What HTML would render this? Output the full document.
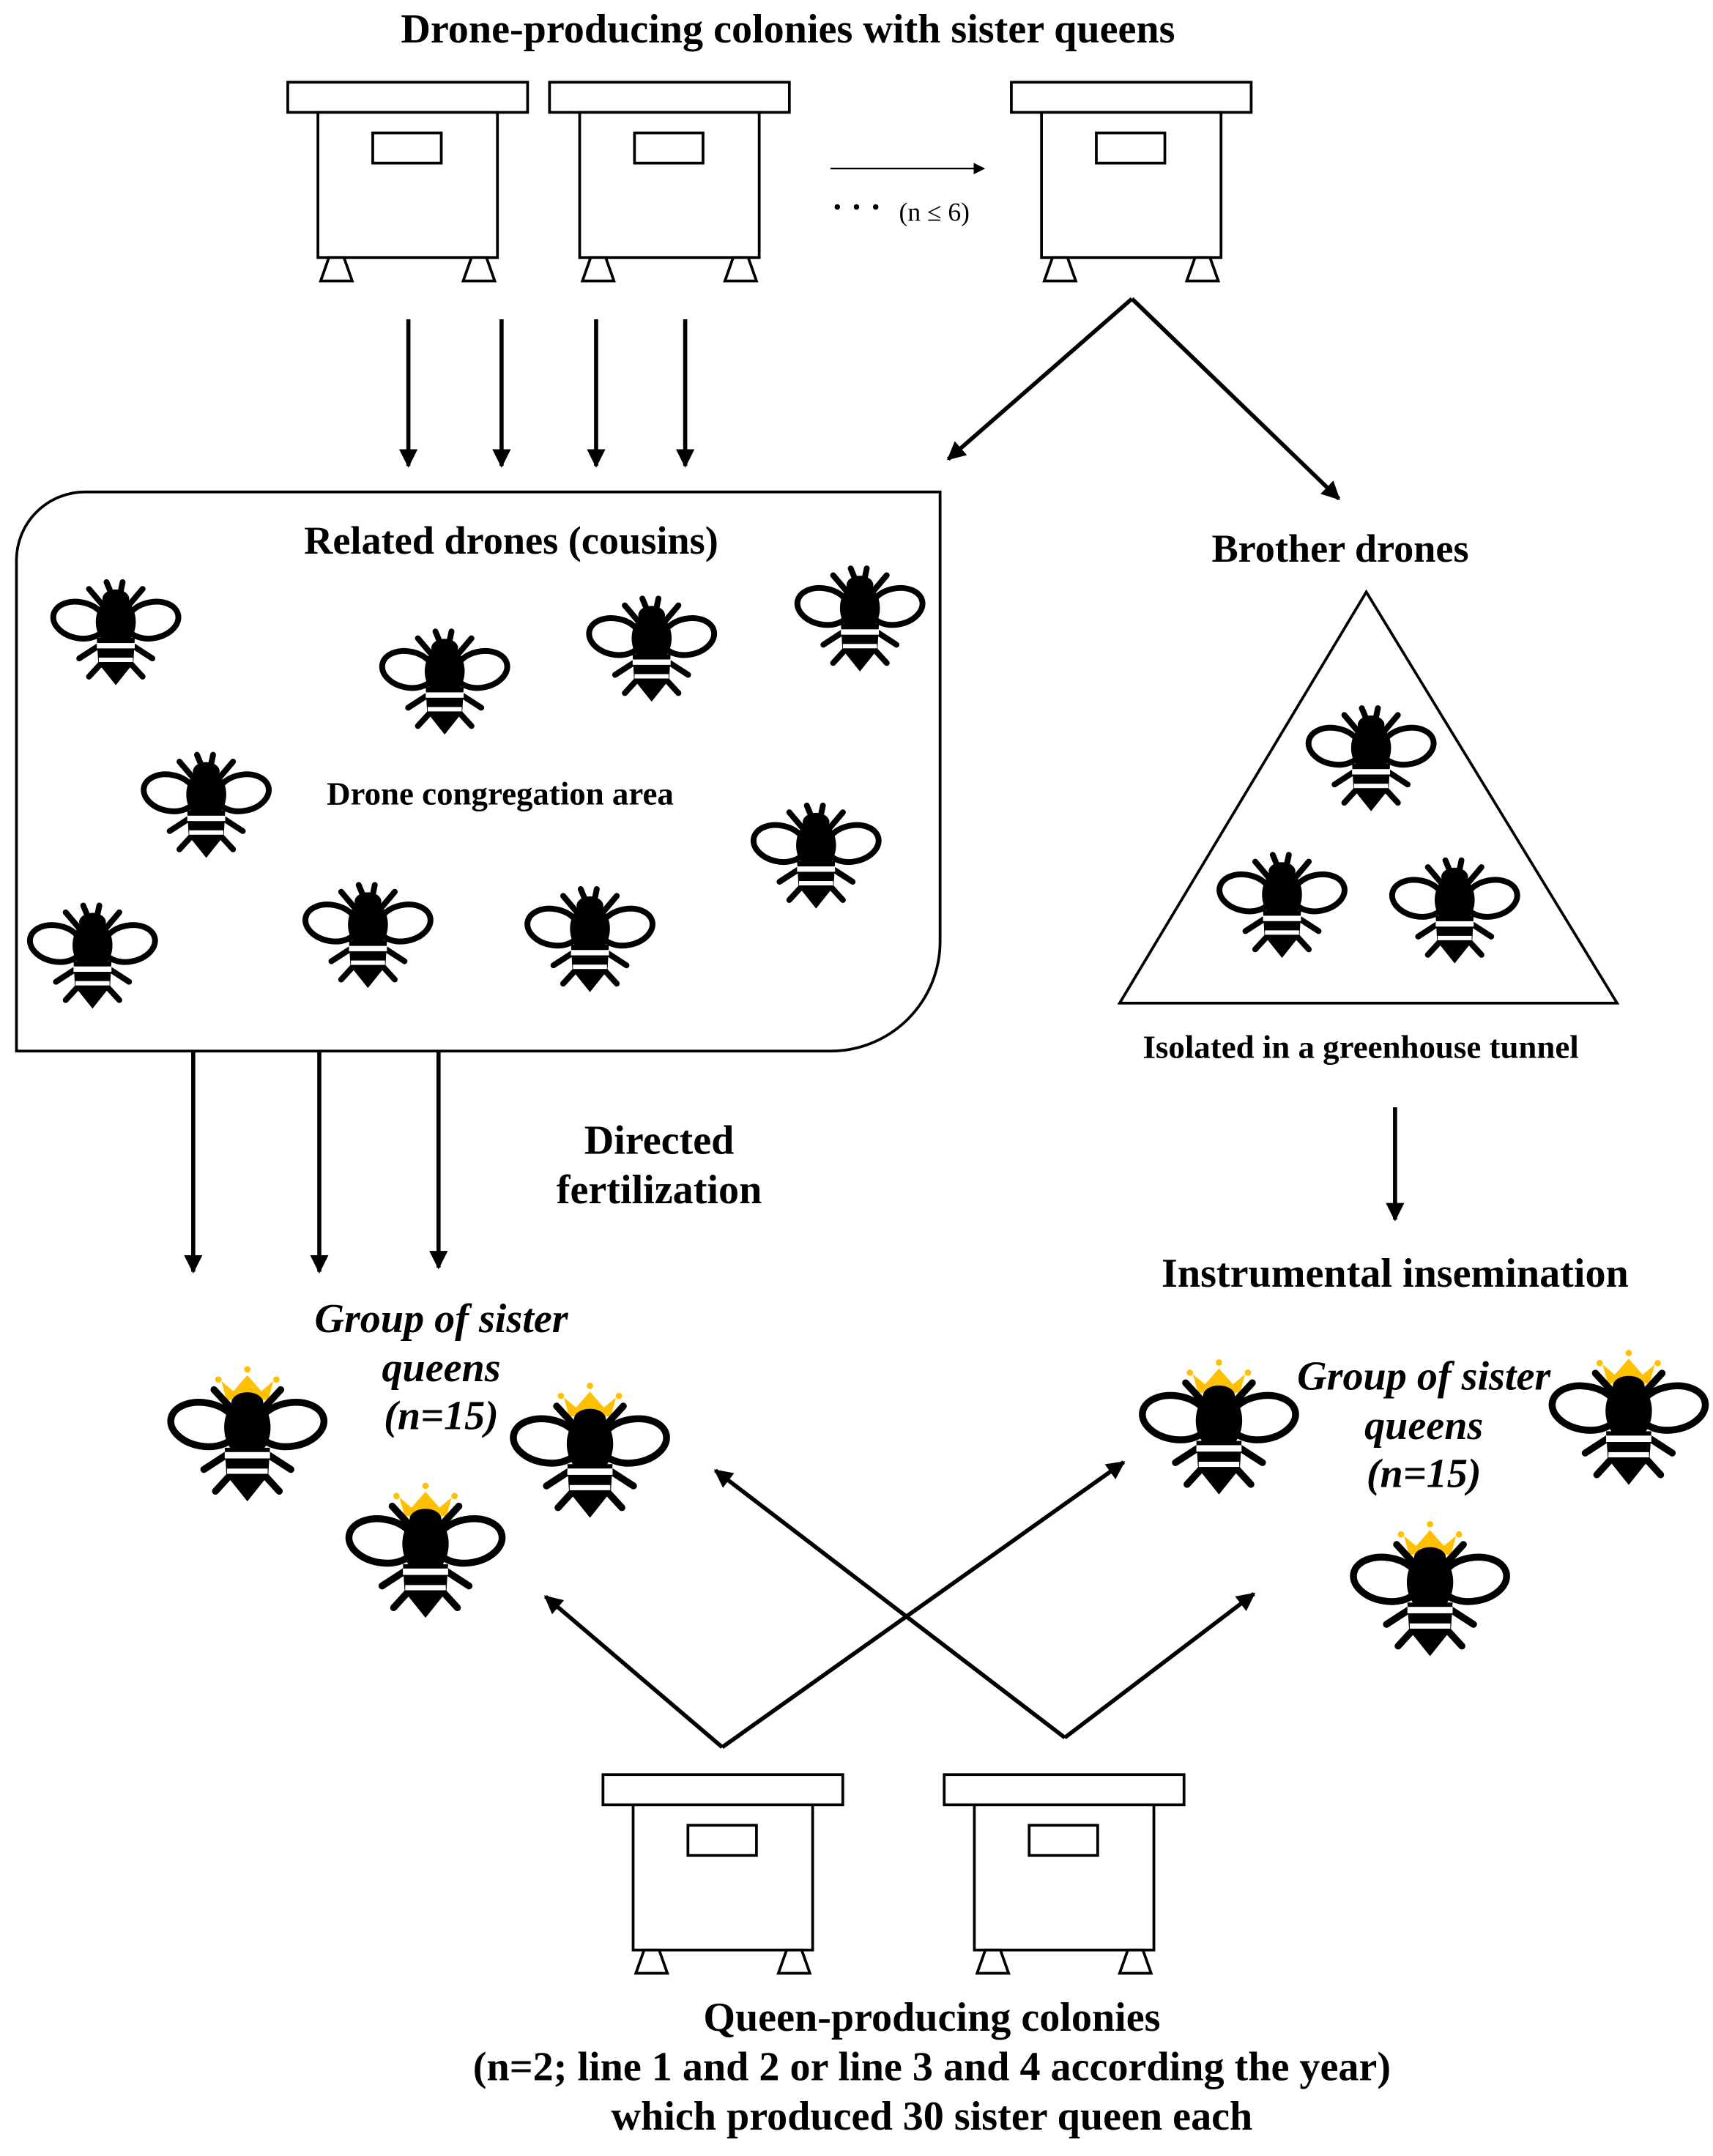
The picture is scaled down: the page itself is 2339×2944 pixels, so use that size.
<!DOCTYPE html>
<html><head><meta charset="utf-8"><style>
html,body{margin:0;padding:0;background:#fff}
svg{display:block}
text{font-family:"Liberation Serif",serif;font-weight:bold;fill:#000}
</style></head><body>
<svg width="2339" height="2944" viewBox="0 0 1250 1573.3" xmlns="http://www.w3.org/2000/svg">
<defs>
<marker id="ah" viewBox="0 0 10 10" refX="9" refY="5" markerWidth="4.5" markerHeight="4.5" orient="auto" markerUnits="strokeWidth"><path d="M0,0 L10,5 L0,10 z" fill="#000"/></marker>
<marker id="ah2" viewBox="0 0 10 10" refX="9" refY="5" markerWidth="7" markerHeight="7" orient="auto" markerUnits="strokeWidth"><path d="M0,0 L10,5 L0,10 z" fill="#000"/></marker>
<g id="hive" fill="#fff" stroke="#000" stroke-width="2">
<rect x="0" y="0" width="175" height="22"/>
<rect x="22" y="22" width="131" height="106"/>
<rect x="62" y="37" width="50" height="22"/>
<path d="M30,128 L41,128 L47,145 L24,145 Z"/>
<path d="M134,128 L145,128 L151,145 L128,145 Z"/>
</g>
<symbol id="bee" viewBox="0 0 600 540">
<g stroke="#000" stroke-width="24" stroke-linecap="round" fill="none">
<ellipse cx="150" cy="228" rx="108" ry="74" transform="rotate(12 150 228)" fill="#fff"/>
<ellipse cx="450" cy="228" rx="108" ry="74" transform="rotate(-12 450 228)" fill="#fff"/>
<line x1="282" y1="120" x2="262" y2="72"/><line x1="318" y1="120" x2="328" y2="72"/>
<line x1="245" y1="165" x2="190" y2="100"/><line x1="355" y1="165" x2="410" y2="100"/>
<line x1="235" y1="330" x2="150" y2="385"/><line x1="365" y1="330" x2="450" y2="385"/>
<line x1="245" y1="400" x2="190" y2="460"/><line x1="355" y1="400" x2="410" y2="460"/>
</g>
<ellipse cx="300" cy="140" rx="55" ry="38" fill="#000"/>
<ellipse cx="300" cy="235" rx="82" ry="105" fill="#000"/>
<path d="M222,300 L378,300 L372,405 L300,495 L228,405 Z" fill="#000"/>
<rect x="222" y="322" width="156" height="22" fill="#fff"/>
<rect x="230" y="382" width="140" height="18" fill="#fff"/>
</symbol>
<symbol id="queen" viewBox="0 0 600 600">
<path d="M228,215 L210,150 L252,185 L300,130 L348,185 L390,150 L372,215 Z" fill="#FFC000"/>
<circle cx="300" cy="110" r="11" fill="#FFC000"/><circle cx="200" cy="145" r="11" fill="#FFC000"/><circle cx="400" cy="145" r="11" fill="#FFC000"/>
<g stroke="#000" stroke-width="24" stroke-linecap="round" fill="none">
<ellipse cx="150" cy="300" rx="115" ry="75" transform="rotate(10 150 300)" fill="#fff"/>
<ellipse cx="450" cy="300" rx="115" ry="75" transform="rotate(-10 450 300)" fill="#fff"/>
<line x1="245" y1="245" x2="185" y2="180"/><line x1="355" y1="245" x2="415" y2="180"/>
<line x1="235" y1="400" x2="150" y2="455"/><line x1="365" y1="400" x2="450" y2="455"/>
<line x1="245" y1="470" x2="190" y2="530"/><line x1="355" y1="470" x2="410" y2="530"/>
</g>
<ellipse cx="300" cy="225" rx="55" ry="36" fill="#000"/>
<ellipse cx="300" cy="310" rx="80" ry="105" fill="#000"/>
<path d="M222,380 L378,380 L372,475 L300,565 L228,475 Z" fill="#000"/>
<rect x="222" y="395" width="156" height="22" fill="#fff"/>
<rect x="230" y="452" width="140" height="18" fill="#fff"/>
</symbol>
</defs>

<text x="575" y="31" font-size="30" text-anchor="middle">Drone-producing colonies with sister queens</text>
<use href="#hive" x="210" y="60"/>
<use href="#hive" x="401" y="60"/>
<use href="#hive" x="738" y="60"/>
<line x1="606" y1="123" x2="718" y2="123" stroke="#000" stroke-width="1.2" marker-end="url(#ah2)"/>
<circle cx="611" cy="151" r="2" fill="#000"/><circle cx="625" cy="151" r="2" fill="#000"/><circle cx="639" cy="151" r="2" fill="#000"/>
<text x="656" y="161" font-size="19" style="font-weight:normal">(n ≤ 6)</text>

<g stroke="#000" stroke-width="3" marker-end="url(#ah)">
<line x1="298" y1="233" x2="298" y2="340"/>
<line x1="366" y1="233" x2="366" y2="340"/>
<line x1="435" y1="233" x2="435" y2="340"/>
<line x1="500" y1="233" x2="500" y2="340"/>
<line x1="826" y1="218" x2="977" y2="364"/>
<line x1="826" y1="218" x2="692" y2="335"/>
<line x1="141" y1="767" x2="141" y2="928"/>
<line x1="233" y1="767" x2="233" y2="928"/>
<line x1="320" y1="767" x2="320" y2="925"/>
<line x1="1018" y1="808" x2="1018" y2="890"/>
<line x1="527" y1="1275" x2="398" y2="1165"/>
<line x1="527" y1="1275" x2="820" y2="1067"/>
<line x1="777" y1="1268" x2="522" y2="1073"/>
<line x1="777" y1="1268" x2="915" y2="1163"/>
</g>

<path d="M62,359 L686,359 L686,687 A80,80 0 0 1 606,767 L12,767 L12,409 A50,50 0 0 1 62,359 Z" fill="none" stroke="#000" stroke-width="2"/>
<text x="373" y="404" font-size="29" text-anchor="middle">Related drones (cousins)</text>
<text x="365" y="587" font-size="24" text-anchor="middle">Drone congregation area</text>

<g>
<use href="#bee" x="31" y="412" width="107" height="96"/>
<use href="#bee" x="271" y="448" width="107" height="96"/>
<use href="#bee" x="422" y="424" width="107" height="96"/>
<use href="#bee" x="574" y="402" width="107" height="96"/>
<use href="#bee" x="97" y="538" width="107" height="96"/>
<use href="#bee" x="14" y="648" width="107" height="96"/>
<use href="#bee" x="215" y="633" width="107" height="96"/>
<use href="#bee" x="377" y="636" width="107" height="96"/>
<use href="#bee" x="542" y="575" width="107" height="96"/>
</g>

<text x="978" y="410" font-size="29" text-anchor="middle">Brother drones</text>
<polygon points="997,432 817,732 1180,732" fill="none" stroke="#000" stroke-width="2"/>
<use href="#bee" x="947" y="504" width="107" height="96"/>
<use href="#bee" x="882" y="611" width="107" height="96"/>
<use href="#bee" x="1008" y="615" width="107" height="96"/>
<text x="993" y="772" font-size="24" text-anchor="middle">Isolated in a greenhouse tunnel</text>

<text x="481" y="842" font-size="30" text-anchor="middle">Directed</text>
<text x="481" y="878" font-size="30" text-anchor="middle">fertilization</text>
<text x="1018" y="939" font-size="30" text-anchor="middle">Instrumental insemination</text>

<g font-style="italic" font-size="30" text-anchor="middle">
<text x="322" y="972">Group of sister</text>
<text x="322" y="1008">queens</text>
<text x="322" y="1043">(n=15)</text>
<text x="1039" y="1014">Group of sister</text>
<text x="1039" y="1050">queens</text>
<text x="1039" y="1085">(n=15)</text>
</g>

<use href="#queen" x="117" y="976" width="127" height="127"/>
<use href="#queen" x="367" y="988" width="127" height="127"/>
<use href="#queen" x="247" y="1061" width="127" height="127"/>
<use href="#queen" x="826" y="971" width="127" height="127"/>
<use href="#queen" x="1125" y="964" width="127" height="127"/>
<use href="#queen" x="980" y="1089" width="127" height="127"/>

<use href="#hive" x="440" y="1295"/>
<use href="#hive" x="689" y="1295"/>

<g font-size="30" text-anchor="middle">
<text x="680" y="1482">Queen-producing colonies</text>
<text x="680" y="1518">(n=2; line 1 and 2 or line 3 and 4 according the year)</text>
<text x="680" y="1554">which produced 30 sister queen each</text>
</g>
</svg>
</body></html>
